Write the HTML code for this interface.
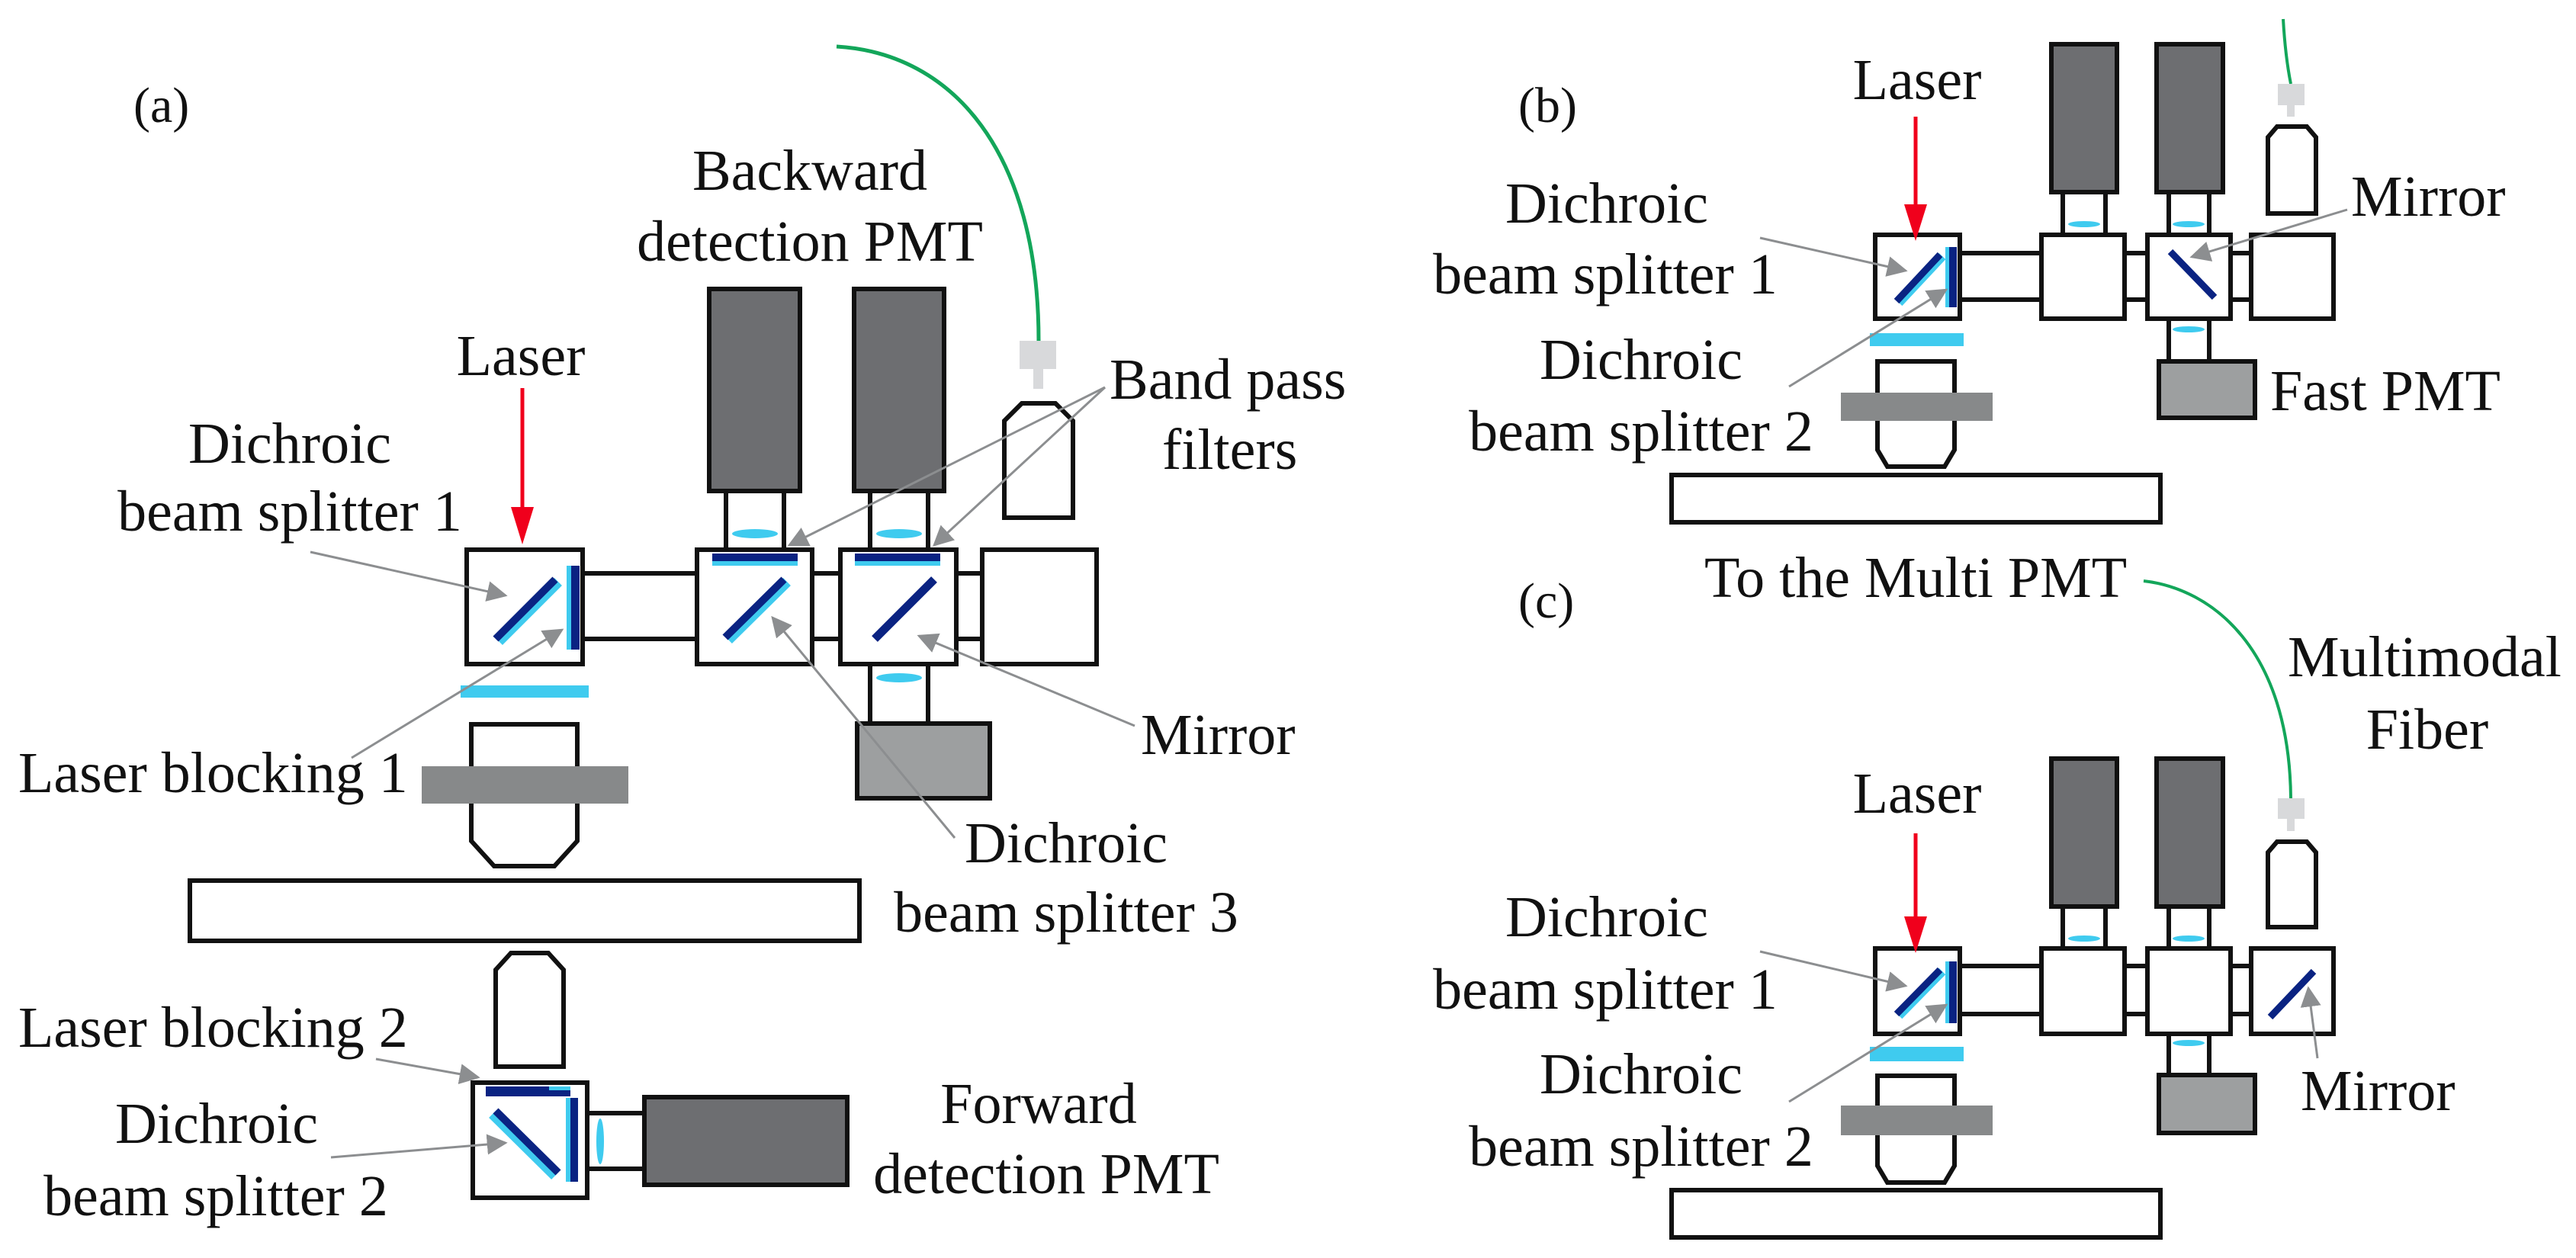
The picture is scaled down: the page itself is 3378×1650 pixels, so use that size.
<!DOCTYPE html>
<html><head><meta charset="utf-8"><style>
html,body{margin:0;padding:0;background:#fff;}
svg{display:block;}
svg text{font-family:"Times New Roman","Liberation Serif",Times,"DejaVu Serif",serif;fill:#111;}
</style></head><body>
<svg width="3378" height="1650" viewBox="0 0 3378 1650" xmlns="http://www.w3.org/2000/svg">
<defs>
<marker id="g" viewBox="0 0 10 10" refX="9" refY="5" markerWidth="9" markerHeight="9" orient="auto"><path d="M0,0 L10,5 L0,10 Z" fill="#8c8e90"/></marker>
</defs>
<g stroke-linejoin="miter">
<!-- ================= PANEL A ================= -->
<path d="M1097,61 C1250,70 1362,200 1362,447" fill="none" stroke="#13a65a" stroke-width="5"/>
<rect x="1337" y="447" width="48" height="37" fill="#d8d9db"/>
<rect x="1355" y="484" width="13" height="26" fill="#d8d9db"/>
<polygon points="1317,679 1317,552 1340,529 1384,529 1407,552 1407,679" fill="#fff" stroke="#111" stroke-width="6"/>
<rect x="930" y="379" width="119" height="265" fill="#6d6e71" stroke="#111" stroke-width="6"/>
<rect x="1120" y="379" width="118" height="265" fill="#6d6e71" stroke="#111" stroke-width="6"/>
<g stroke="#111" stroke-width="6">
<line x1="952" y1="644" x2="952" y2="721"/><line x1="1028" y1="644" x2="1028" y2="721"/>
<line x1="1141" y1="644" x2="1141" y2="721"/><line x1="1217" y1="644" x2="1217" y2="721"/>
<line x1="1141" y1="871" x2="1141" y2="949"/><line x1="1217" y1="871" x2="1217" y2="949"/>
<line x1="764" y1="752" x2="914" y2="752"/><line x1="764" y1="838" x2="914" y2="838"/>
<line x1="1065" y1="752" x2="1102" y2="752"/><line x1="1065" y1="838" x2="1102" y2="838"/>
<line x1="1254" y1="752" x2="1288" y2="752"/><line x1="1254" y1="838" x2="1288" y2="838"/>
</g>
<ellipse cx="990" cy="700" rx="30" ry="6" fill="#3fcbef"/>
<ellipse cx="1179" cy="700" rx="30" ry="6" fill="#3fcbef"/>
<ellipse cx="1179" cy="889" rx="30" ry="6" fill="#3fcbef"/>
<g fill="#fff" stroke="#111" stroke-width="6">
<rect x="612" y="721" width="152" height="150"/>
<rect x="914" y="721" width="151" height="150"/>
<rect x="1102" y="721" width="152" height="150"/>
<rect x="1288" y="721" width="150" height="150"/>
</g>
<rect x="934" y="726" width="112" height="10" fill="#0a2382"/><rect x="934" y="736" width="112" height="6" fill="#3fcbef"/>
<rect x="1121" y="726" width="112" height="10" fill="#0a2382"/><rect x="1121" y="736" width="112" height="6" fill="#3fcbef"/>
<rect x="743" y="742" width="6" height="110" fill="#3fcbef"/><rect x="749" y="742" width="11" height="110" fill="#0a2382"/>
<line x1="654" y1="841" x2="732" y2="763" stroke="#3fcbef" stroke-width="14"/>
<line x1="650" y1="838" x2="728" y2="760" stroke="#0a2382" stroke-width="10"/>
<line x1="955" y1="839" x2="1032" y2="763" stroke="#3fcbef" stroke-width="14"/>
<line x1="951" y1="836" x2="1028" y2="760" stroke="#0a2382" stroke-width="10"/>
<line x1="1147" y1="838" x2="1225" y2="760" stroke="#0a2382" stroke-width="11"/>
<rect x="1124" y="949" width="174" height="98" fill="#9d9fa0" stroke="#111" stroke-width="6"/>
<rect x="604" y="899" width="168" height="16" fill="#3fcbef"/>
<polygon points="618,950 757,950 757,1103 727,1136 648,1136 618,1103" fill="#fff" stroke="#111" stroke-width="6"/>
<rect x="553" y="1005" width="271" height="49" fill="#87898a"/>
<rect x="249" y="1155" width="878" height="79" fill="#fff" stroke="#111" stroke-width="6"/>
<polygon points="650,1399 650,1272 670,1250 719,1250 739,1272 739,1399" fill="#fff" stroke="#111" stroke-width="6"/>
<g stroke="#111" stroke-width="6"><line x1="770" y1="1460" x2="845" y2="1460"/><line x1="770" y1="1533" x2="845" y2="1533"/></g>
<ellipse cx="787" cy="1497" rx="5" ry="30" fill="#3fcbef"/>
<rect x="620" y="1420" width="150" height="151" fill="#fff" stroke="#111" stroke-width="6"/>
<rect x="637" y="1425" width="111" height="13" fill="#0a2382"/><rect x="720" y="1425" width="28" height="5" fill="#3fcbef"/>
<rect x="742" y="1440" width="6" height="110" fill="#3fcbef"/><rect x="748" y="1440" width="10" height="110" fill="#0a2382"/>
<line x1="646" y1="1461" x2="728" y2="1542" stroke="#3fcbef" stroke-width="14"/>
<line x1="650" y1="1457" x2="732" y2="1538" stroke="#0a2382" stroke-width="10"/>
<rect x="845" y="1439" width="266" height="115" fill="#6d6e71" stroke="#111" stroke-width="6"/>
<line x1="685" y1="509" x2="685" y2="670" stroke="#f0001c" stroke-width="5"/>
<polygon points="670,665 700,665 685,714" fill="#f0001c"/>
<g stroke="#8c8e90" stroke-width="3" fill="none" marker-end="url(#g)">
<line x1="407" y1="724" x2="663" y2="781"/>
<line x1="461" y1="994" x2="737" y2="826"/>
<line x1="1449" y1="508" x2="1035" y2="715"/>
<line x1="1449" y1="508" x2="1225" y2="715"/>
<line x1="1488" y1="952" x2="1205" y2="834"/>
<line x1="1252" y1="1099" x2="1013" y2="810"/>
<line x1="493" y1="1389" x2="627" y2="1413"/>
<line x1="434" y1="1518" x2="663" y2="1499"/>
</g>

<!-- ================= PANEL B ================= -->
<path d="M2994,25 C2996,60 3000,90 3004,110" fill="none" stroke="#13a65a" stroke-width="4"/>
<rect x="2987" y="110" width="35" height="28" fill="#d8d9db"/>
<rect x="2999" y="138" width="10" height="15" fill="#d8d9db"/>
<polygon points="2974,280 2974,180 2986,166 3025,166 3037,180 3037,280" fill="#fff" stroke="#111" stroke-width="6"/>
<rect x="2690" y="58" width="86" height="194" fill="#6d6e71" stroke="#111" stroke-width="6"/>
<rect x="2828" y="58" width="87" height="194" fill="#6d6e71" stroke="#111" stroke-width="6"/>
<g stroke="#111" stroke-width="6">
<line x1="2705" y1="252" x2="2705" y2="308"/><line x1="2761" y1="252" x2="2761" y2="308"/>
<line x1="2844" y1="252" x2="2844" y2="308"/><line x1="2897" y1="252" x2="2897" y2="308"/>
<line x1="2844" y1="418" x2="2844" y2="474"/><line x1="2897" y1="418" x2="2897" y2="474"/>
<line x1="2570" y1="332" x2="2677" y2="332"/><line x1="2570" y1="393" x2="2677" y2="393"/>
<line x1="2786" y1="332" x2="2816" y2="332"/><line x1="2786" y1="393" x2="2816" y2="393"/>
<line x1="2925" y1="332" x2="2952" y2="332"/><line x1="2925" y1="393" x2="2952" y2="393"/>
</g>
<ellipse cx="2733" cy="294" rx="21" ry="4" fill="#3fcbef"/>
<ellipse cx="2870" cy="294" rx="21" ry="4" fill="#3fcbef"/>
<ellipse cx="2870" cy="432" rx="21" ry="4" fill="#3fcbef"/>
<g fill="#fff" stroke="#111" stroke-width="6">
<rect x="2459" y="308" width="111" height="110"/>
<rect x="2677" y="308" width="109" height="110"/>
<rect x="2816" y="308" width="109" height="110"/>
<rect x="2952" y="308" width="108" height="110"/>
</g>
<rect x="2551" y="324" width="5" height="79" fill="#3fcbef"/><rect x="2556" y="324" width="10" height="79" fill="#0a2382"/>
<line x1="2490" y1="397" x2="2547" y2="336" stroke="#3fcbef" stroke-width="12"/>
<line x1="2487" y1="395" x2="2544" y2="334" stroke="#0a2382" stroke-width="9"/>
<line x1="2846" y1="330" x2="2904" y2="390" stroke="#0a2382" stroke-width="9"/>
<rect x="2831" y="474" width="126" height="74" fill="#9d9fa0" stroke="#111" stroke-width="6"/>
<rect x="2452" y="437" width="123" height="17" fill="#3fcbef"/>
<polygon points="2462,474 2563,474 2563,590 2550,612 2475,612 2462,590" fill="#fff" stroke="#111" stroke-width="6"/>
<rect x="2414" y="515" width="199" height="37" fill="#87898a"/>
<rect x="2192" y="623" width="641" height="62" fill="#fff" stroke="#111" stroke-width="6"/>
<line x1="2512" y1="153" x2="2512" y2="275" stroke="#f0001c" stroke-width="5"/>
<polygon points="2497,268 2527,268 2512,316" fill="#f0001c"/>
<g stroke="#8c8e90" stroke-width="3" fill="none" marker-end="url(#g)">
<line x1="2308" y1="312" x2="2499" y2="355"/>
<line x1="2346" y1="507" x2="2552" y2="380"/>
<line x1="3078" y1="275" x2="2874" y2="337"/>
</g>

<!-- ================= PANEL C ================= -->
<path d="M2811,762 C2900,772 3002,850 3004,1047" fill="none" stroke="#13a65a" stroke-width="4"/>
<rect x="2987" y="1047" width="35" height="27" fill="#d8d9db"/>
<rect x="2999" y="1074" width="10" height="16" fill="#d8d9db"/>
<polygon points="2974,1216 2974,1118 2986,1104 3025,1104 3037,1118 3037,1216" fill="#fff" stroke="#111" stroke-width="6"/>
<rect x="2690" y="995" width="86" height="194" fill="#6d6e71" stroke="#111" stroke-width="6"/>
<rect x="2828" y="995" width="87" height="194" fill="#6d6e71" stroke="#111" stroke-width="6"/>
<g stroke="#111" stroke-width="6">
<line x1="2705" y1="1189" x2="2705" y2="1244"/><line x1="2761" y1="1189" x2="2761" y2="1244"/>
<line x1="2844" y1="1189" x2="2844" y2="1244"/><line x1="2897" y1="1189" x2="2897" y2="1244"/>
<line x1="2844" y1="1356" x2="2844" y2="1410"/><line x1="2897" y1="1356" x2="2897" y2="1410"/>
<line x1="2570" y1="1267" x2="2677" y2="1267"/><line x1="2570" y1="1330" x2="2677" y2="1330"/>
<line x1="2786" y1="1267" x2="2816" y2="1267"/><line x1="2786" y1="1330" x2="2816" y2="1330"/>
<line x1="2925" y1="1267" x2="2952" y2="1267"/><line x1="2925" y1="1330" x2="2952" y2="1330"/>
</g>
<ellipse cx="2733" cy="1231" rx="21" ry="4" fill="#3fcbef"/>
<ellipse cx="2870" cy="1231" rx="21" ry="4" fill="#3fcbef"/>
<ellipse cx="2870" cy="1368" rx="21" ry="4" fill="#3fcbef"/>
<g fill="#fff" stroke="#111" stroke-width="6">
<rect x="2459" y="1244" width="111" height="112"/>
<rect x="2677" y="1244" width="109" height="112"/>
<rect x="2816" y="1244" width="109" height="112"/>
<rect x="2952" y="1244" width="108" height="112"/>
</g>
<rect x="2551" y="1261" width="5" height="81" fill="#3fcbef"/><rect x="2556" y="1261" width="10" height="81" fill="#0a2382"/>
<line x1="2490" y1="1332" x2="2547" y2="1274" stroke="#3fcbef" stroke-width="12"/>
<line x1="2487" y1="1330" x2="2544" y2="1272" stroke="#0a2382" stroke-width="9"/>
<line x1="2977" y1="1334" x2="3034" y2="1274" stroke="#0a2382" stroke-width="9"/>
<rect x="2831" y="1410" width="126" height="76" fill="#9d9fa0" stroke="#111" stroke-width="6"/>
<rect x="2452" y="1373" width="123" height="19" fill="#3fcbef"/>
<polygon points="2462,1411 2563,1411 2563,1529 2550,1551 2475,1551 2462,1529" fill="#fff" stroke="#111" stroke-width="6"/>
<rect x="2414" y="1450" width="199" height="39" fill="#87898a"/>
<rect x="2192" y="1561" width="641" height="62" fill="#fff" stroke="#111" stroke-width="6"/>
<line x1="2512" y1="1093" x2="2512" y2="1208" stroke="#f0001c" stroke-width="5"/>
<polygon points="2497,1202 2527,1202 2512,1250" fill="#f0001c"/>
<g stroke="#8c8e90" stroke-width="3" fill="none" marker-end="url(#g)">
<line x1="2308" y1="1248" x2="2499" y2="1293"/>
<line x1="2346" y1="1445" x2="2552" y2="1318"/>
<line x1="3039" y1="1388" x2="3027" y2="1296"/>
</g>
</g>

<!-- ================= TEXT ================= -->
<g font-family="Times New Roman, Liberation Serif, Times, serif" font-size="76" fill="#111">
<text x="175" y="160" font-size="66" font-family="Times New Roman, Liberation Serif, serif">(a)</text>
<text x="1062" y="249" text-anchor="middle" font-family="Times New Roman, Liberation Serif, serif">Backward</text>
<text x="1062" y="342" text-anchor="middle" font-family="Times New Roman, Liberation Serif, serif">detection PMT</text>
<text x="683" y="492" text-anchor="middle" font-family="Times New Roman, Liberation Serif, serif">Laser</text>
<text x="380" y="607" text-anchor="middle" font-family="Times New Roman, Liberation Serif, serif">Dichroic</text>
<text x="380" y="696" text-anchor="middle" font-family="Times New Roman, Liberation Serif, serif">beam splitter 1</text>
<text x="24" y="1039" font-family="Times New Roman, Liberation Serif, serif">Laser blocking 1</text>
<text x="24" y="1373" font-family="Times New Roman, Liberation Serif, serif">Laser blocking 2</text>
<text x="284" y="1499" text-anchor="middle" font-family="Times New Roman, Liberation Serif, serif">Dichroic</text>
<text x="283" y="1594" text-anchor="middle" font-family="Times New Roman, Liberation Serif, serif">beam splitter 2</text>
<text x="1455" y="523" font-family="Times New Roman, Liberation Serif, serif">Band pass</text>
<text x="1524" y="615" font-family="Times New Roman, Liberation Serif, serif">filters</text>
<text x="1496" y="989" font-family="Times New Roman, Liberation Serif, serif">Mirror</text>
<text x="1398" y="1131" text-anchor="middle" font-family="Times New Roman, Liberation Serif, serif">Dichroic</text>
<text x="1398" y="1222" text-anchor="middle" font-family="Times New Roman, Liberation Serif, serif">beam splitter 3</text>
<text x="1362" y="1473" text-anchor="middle" font-family="Times New Roman, Liberation Serif, serif">Forward</text>
<text x="1372" y="1565" text-anchor="middle" font-family="Times New Roman, Liberation Serif, serif">detection PMT</text>

<text x="1991" y="160" font-size="66" font-family="Times New Roman, Liberation Serif, serif">(b)</text>
<text x="2514" y="130" text-anchor="middle" font-family="Times New Roman, Liberation Serif, serif">Laser</text>
<text x="2107" y="292" text-anchor="middle" font-family="Times New Roman, Liberation Serif, serif">Dichroic</text>
<text x="2105" y="385" text-anchor="middle" font-family="Times New Roman, Liberation Serif, serif">beam splitter 1</text>
<text x="2152" y="497" text-anchor="middle" font-family="Times New Roman, Liberation Serif, serif">Dichroic</text>
<text x="2152" y="591" text-anchor="middle" font-family="Times New Roman, Liberation Serif, serif">beam splitter 2</text>
<text x="3083" y="283" font-family="Times New Roman, Liberation Serif, serif">Mirror</text>
<text x="2977" y="538" font-family="Times New Roman, Liberation Serif, serif">Fast PMT</text>

<text x="1991" y="810" font-size="66" font-family="Times New Roman, Liberation Serif, serif">(c)</text>
<text x="2235" y="783" font-family="Times New Roman, Liberation Serif, serif">To the Multi PMT</text>
<text x="3000" y="887" font-family="Times New Roman, Liberation Serif, serif">Multimodal</text>
<text x="3183" y="982" text-anchor="middle" font-family="Times New Roman, Liberation Serif, serif">Fiber</text>
<text x="2514" y="1066" text-anchor="middle" font-family="Times New Roman, Liberation Serif, serif">Laser</text>
<text x="2107" y="1228" text-anchor="middle" font-family="Times New Roman, Liberation Serif, serif">Dichroic</text>
<text x="2105" y="1323" text-anchor="middle" font-family="Times New Roman, Liberation Serif, serif">beam splitter 1</text>
<text x="2152" y="1434" text-anchor="middle" font-family="Times New Roman, Liberation Serif, serif">Dichroic</text>
<text x="2152" y="1529" text-anchor="middle" font-family="Times New Roman, Liberation Serif, serif">beam splitter 2</text>
<text x="3017" y="1456" font-family="Times New Roman, Liberation Serif, serif">Mirror</text>
</g>
</svg>
</body></html>
